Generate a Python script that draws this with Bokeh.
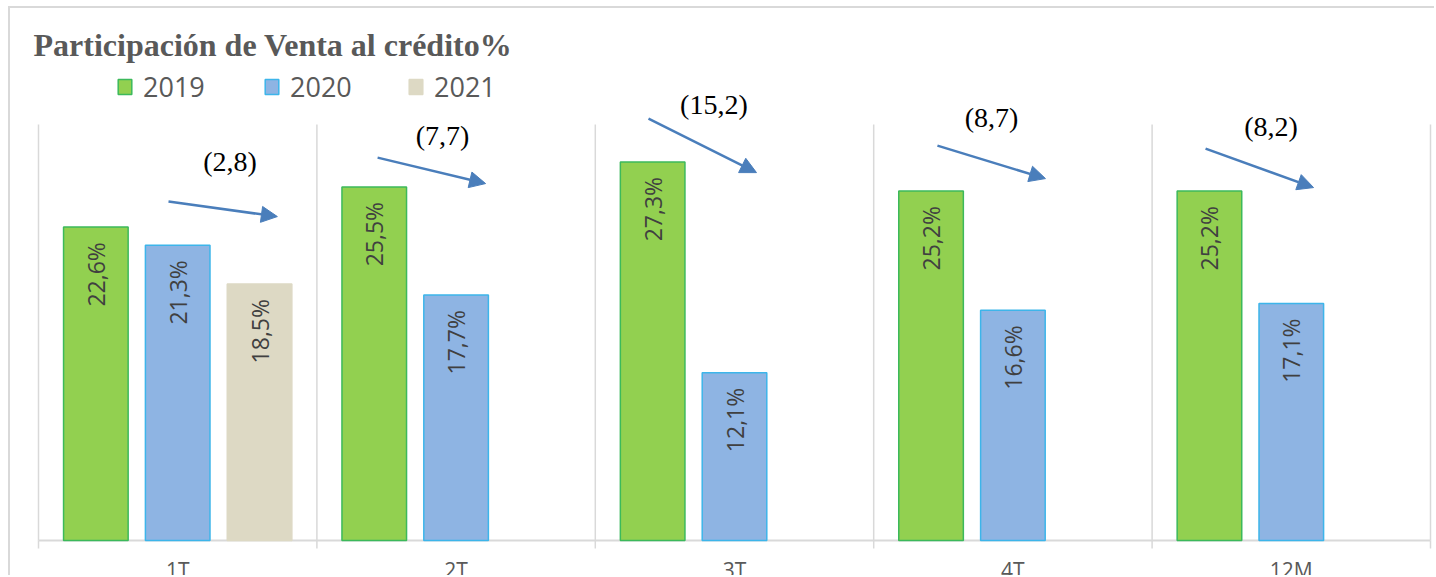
import numpy as np
from bokeh.plotting import figure
from bokeh.models import (Range1d, Legend, LegendItem, Label, Arrow,
                          NormalHead, ColumnDataSource)
from bokeh.core.properties import value
from bokeh.embed import file_html
from bokeh.resources import INLINE

# ---------------- data ----------------
categories = ["1T", "2T", "3T", "4T", "12M"]
series = ["2019", "2020", "2021"]
v2019 = [22.6, 25.5, 27.3, 25.2, 25.2]
v2020 = [21.3, 17.7, 12.1, 16.6, 17.1]
v2021 = [18.5, None, None, None, None]
change_labels = ["(2,8)", "(7,7)", "(15,2)", "(8,7)", "(8,2)"]
title_text = "Participación de Venta al crédito%"
VALUE_MAX = 30

# annotation placement (category-axis units / value-axis units)
arrow_x0 = [0.467, 1.218, 2.191, 3.229, 4.192]
arrow_y0 = [24.44, 27.61, 30.43, 28.48, 28.26]
arrow_x1 = [0.858, 1.606, 2.579, 3.617, 4.580]
arrow_y1 = [23.36, 25.74, 26.53, 26.10, 25.45]
change_x = [0.688, 1.451, 2.426, 3.423, 4.427]
change_y = [27.36, 29.20, 31.43, 30.50, 29.89]

# ---------------- styles / layout ----------------
fills = ["#92d050", "#8eb4e3", "#ddd9c4"]
lines = ["#3cb95b", "#3db5ea", "#ddd9c4"]
offsets = [-0.294, 0.0, 0.294]
BAR_W = 0.232
ARROW = "#4a7ebb"
GRID = "#d9d9d9"

W, H = 1426, 569          # canvas size (canvas starts at page x=10, y=8)
PLOT_L, PLOT_R = 28, 1420  # plot area in canvas px
PLOT_T, PLOT_B = 116, 532
n = len(categories)
px_x = (PLOT_R - PLOT_L) / n
px_y = (PLOT_B - PLOT_T) / VALUE_MAX
x_range = Range1d(-PLOT_L / px_x, (W - PLOT_L) / px_x)
y_range = Range1d(-(H - PLOT_B) / px_y, PLOT_B / px_y)


def fmt(v):
    return f"{v:.1f}".replace(".", ",") + "%"


p = figure(width=W, height=H, x_range=x_range, y_range=y_range,
           output_backend="svg", toolbar_location=None,
           x_axis_location=None, y_axis_location=None, min_border=0,
           background_fill_color="white", border_fill_color="white")
p.styles = {"margin-left": "8px", "margin-top": "6px",
            "border-left": "2px solid #d9d9d9", "border-top": "2px solid #d9d9d9"}
p.outline_line_color = None
p.grid.visible = False

bounds = list(range(n + 1))
# vertical category separators, axis line and ticks
p.segment(x0=bounds, y0=[0] * len(bounds), x1=bounds, y1=[VALUE_MAX] * len(bounds),
          line_color=GRID, line_width=1.5)
p.segment(x0=[0], y0=[0], x1=[n], y1=[0], line_color=GRID, line_width=2)
p.ray(x=bounds, y=[0] * len(bounds), length=8, length_units="screen", angle=-np.pi / 2,
      line_color=GRID, line_width=1.5)

series_vals = [v2019, v2020, v2021]
renderers = []
for name, vals, fc, lc, off in zip(series, series_vals, fills, lines, offsets):
    keep = [i for i, v in enumerate(vals) if v is not None]
    src = ColumnDataSource(dict(
        x=[i + 0.5 + off for i in keep],
        top=[vals[i] for i in keep],
        label=[fmt(vals[i]) for i in keep],
    ))
    r = p.vbar(x="x", top="top", width=BAR_W, source=src,
               fill_color=fc, line_color=lc, line_width=1.5)
    p.text(x="x", y="top", text="label", source=src, angle=np.pi / 2,
           text_align="right", text_baseline="middle", y_offset=15,
           text_font=value("Open Sans"), text_font_size="23px", text_color="#404040")
    renderers.append(r)

leg_x = [106, 253, 397]
for name, r, lx in zip(series, renderers, leg_x):
    lg = Legend(items=[LegendItem(label=name, renderers=[r])], location=(lx, 472),
                orientation="horizontal", border_line_color=None, background_fill_alpha=0,
                padding=0, margin=0, spacing=0, glyph_width=17, glyph_height=19,
                label_standoff=10, label_text_font="Open Sans", label_text_font_size="27px",
                label_text_color="#595959")
    p.add_layout(lg)

for i in range(n):
    p.add_layout(Arrow(end=NormalHead(size=16, fill_color=ARROW, line_color=ARROW),
                       x_start=arrow_x0[i], y_start=arrow_y0[i],
                       x_end=arrow_x1[i], y_end=arrow_y1[i],
                       line_color=ARROW, line_width=2.5))
    p.add_layout(Label(x=change_x[i], y=change_y[i], text=change_labels[i],
                       text_align="center", text_baseline="middle",
                       text_font="Liberation Serif", text_font_size="28px", text_color="black"))

for i, c in enumerate(categories):
    p.add_layout(Label(x=i + 0.5, y=22, y_units="screen", text=c, text_align="center",
                       text_baseline="top", text_font="Open Sans", text_font_size="21px",
                       text_color="#595959"))

p.add_layout(Label(x=23, y=533, x_units="screen", y_units="screen", text=title_text,
                   text_font="Liberation Serif", text_font_style="bold", text_font_size="32px",
                   text_color="#595959", text_baseline="alphabetic"))

open("out.html", "w").write(file_html(p, INLINE))
